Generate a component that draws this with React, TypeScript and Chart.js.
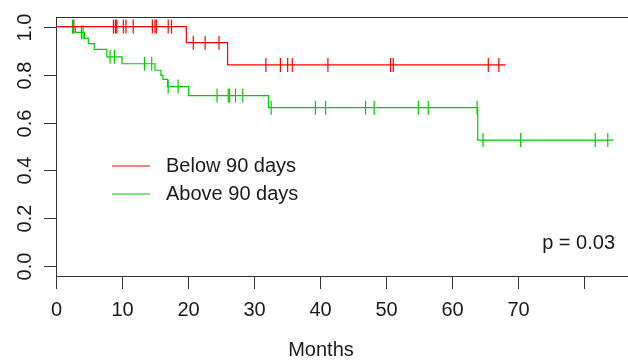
import React, { useEffect, useRef } from "react";
import { Chart, registerables } from "chart.js";

Chart.register(...registerables);

// ---- data ----
const redTimes = [0, 19.75, 26.0, 68.1];
const redSurv = [1, 0.933, 0.84, 0.84];
const redCensorTimes = [2.7, 8.7, 9.0, 9.2, 10.2, 10.6, 11.7, 14.6, 15.0, 15.2, 17.0, 17.5, 20.8, 22.6, 24.7, 31.8, 34.0, 35.1, 35.8, 41.2, 50.7, 51.1, 65.5, 67.1];

const greenTimes = [0, 2.95, 4.3, 4.9, 5.8, 7.7, 10.0, 15.0, 15.9, 16.2, 16.9, 20.1, 32.2, 63.9, 84.5];
const greenSurv = [1, 0.976, 0.952, 0.929, 0.905, 0.874, 0.845, 0.818, 0.797, 0.78, 0.75, 0.7125, 0.662, 0.527, 0.527];
const greenCensorTimes = [2.5, 3.85, 4.1, 8.2, 8.85, 13.4, 14.5, 17.0, 18.5, 24.4, 26.1, 26.3, 27.2, 28.3, 32.6, 39.3, 40.85, 46.9, 48.2, 54.9, 56.4, 63.8, 64.7, 70.4, 81.7, 83.6];

const yTicks = [0, 0.2, 0.4, 0.6, 0.8, 1.0];
const yTickLabels = ["0.0", "0.2", "0.4", "0.6", "0.8", "1.0"];
const xTicks = [0, 10, 20, 30, 40, 50, 60, 70, 80];
const xTickLabels = ["0", "10", "20", "30", "40", "50", "60", "70", ""];
const legendLabels = ["Below 90 days", "Above 90 days"];
const xTitle = "Months";
const pLabel = "p = 0.03";

const RED = "#ff0000";
const GREEN = "#00cd00";
const FONT = "Liberation Sans, Arial, sans-serif";
const FONT_SIZE = 20;

function survAt(times: number[], surv: number[], t: number) {
  let s = surv[0];
  for (let i = 0; i < times.length; i++) if (times[i] <= t) s = surv[i];
  return s;
}

const rAxesPlugin = {
  id: "rAxes",
  afterDatasetsDraw(chart: any) {
    const { ctx, chartArea: a, scales } = chart;
    const x = scales.x;
    const y = scales.y;
    ctx.save();
    ctx.strokeStyle = "#333333";
    ctx.lineWidth = 1;
    ctx.strokeRect(Math.round(a.left) + 0.5, Math.round(a.top) + 0.5, a.right - a.left, a.bottom - a.top);

    ctx.fillStyle = "#1a1a1a";
    ctx.font = `${FONT_SIZE}px ${FONT}`;

    // y axis ticks + rotated labels
    yTicks.forEach((v, i) => {
      const py = Math.round(y.getPixelForValue(v)) + 0.5;
      ctx.beginPath();
      ctx.moveTo(a.left - 12, py);
      ctx.lineTo(a.left, py);
      ctx.stroke();
      ctx.save();
      ctx.translate(a.left - 31, py);
      ctx.rotate(-Math.PI / 2);
      ctx.textAlign = "center";
      ctx.textBaseline = "middle";
      ctx.fillText(yTickLabels[i], 0, 0);
      ctx.restore();
    });

    // x axis ticks + labels
    xTicks.forEach((v, i) => {
      const px = Math.round(x.getPixelForValue(v)) + 0.5;
      ctx.beginPath();
      ctx.moveTo(px, a.bottom);
      ctx.lineTo(px, a.bottom + 13);
      ctx.stroke();
      ctx.textAlign = "center";
      ctx.textBaseline = "middle";
      ctx.fillText(xTickLabels[i], px, a.bottom + 34);
    });

    // axis title
    ctx.textAlign = "center";
    ctx.textBaseline = "middle";
    ctx.fillText(xTitle, 321, 350);

    // legend
    const colors = [RED, GREEN];
    const legY = [166, 194];
    legendLabels.forEach((lab, i) => {
      ctx.strokeStyle = colors[i];
      ctx.lineWidth = 1.2;
      ctx.beginPath();
      ctx.moveTo(112, legY[i]);
      ctx.lineTo(150, legY[i]);
      ctx.stroke();
      ctx.textAlign = "left";
      ctx.fillText(lab, 166, legY[i]);
    });

    // p value
    ctx.textAlign = "right";
    ctx.fillText(pLabel, 615, 243);
    ctx.restore();
  },
};

export default function App() {
  const canvasRef = useRef<HTMLCanvasElement | null>(null);

  useEffect(() => {
    const canvas = canvasRef.current;
    if (!canvas) return;
    const curve = (times: number[], surv: number[]) => times.map((t, i) => ({ x: t, y: surv[i] }));
    const marks = (ct: number[], times: number[], surv: number[]) => ct.map((t) => ({ x: t, y: survAt(times, surv, t) }));
    const lastTime = greenTimes[greenTimes.length - 1];

    const chart = new Chart(canvas, {
      type: "line",
      data: {
        datasets: [
          {
            data: curve(redTimes, redSurv),
            borderColor: RED,
            borderWidth: 1.2,
            stepped: "before",
            pointRadius: 0,
            fill: false,
          } as any,
          {
            data: curve(greenTimes, greenSurv),
            borderColor: GREEN,
            borderWidth: 1.2,
            stepped: "before",
            pointRadius: 0,
            fill: false,
          } as any,
          {
            type: "scatter",
            data: marks(redCensorTimes, redTimes, redSurv),
            borderColor: RED,
            backgroundColor: RED,
            pointStyle: "line",
            rotation: 90,
            pointRadius: 7,
            borderWidth: 1.2,
            showLine: false,
          } as any,
          {
            type: "scatter",
            data: marks(greenCensorTimes, greenTimes, greenSurv),
            borderColor: GREEN,
            backgroundColor: GREEN,
            pointStyle: "line",
            rotation: 90,
            pointRadius: 7,
            borderWidth: 1.2,
            showLine: false,
          } as any,
        ],
      },
      options: {
        responsive: false,
        maintainAspectRatio: false,
        devicePixelRatio: 1,
        animation: false,
        layout: { padding: { left: 56, top: 17, right: 24, bottom: 84 } },
        scales: {
          x: { type: "linear", min: 0, max: lastTime * 1.04, display: false },
          y: { type: "linear", min: -0.04, max: 1.04, display: false },
        },
        plugins: { legend: { display: false }, tooltip: { enabled: false } },
        events: [],
      },
      plugins: [rAxesPlugin],
    });
    return () => chart.destroy();
  }, []);

  return (
    <div style={{ position: "fixed", left: 0, top: 0, width: 628, height: 360, overflow: "hidden", background: "#fff" }}>
      <canvas ref={canvasRef} width={660} height={360} style={{ display: "block", width: 660, height: 360 }} />
    </div>
  );
}
